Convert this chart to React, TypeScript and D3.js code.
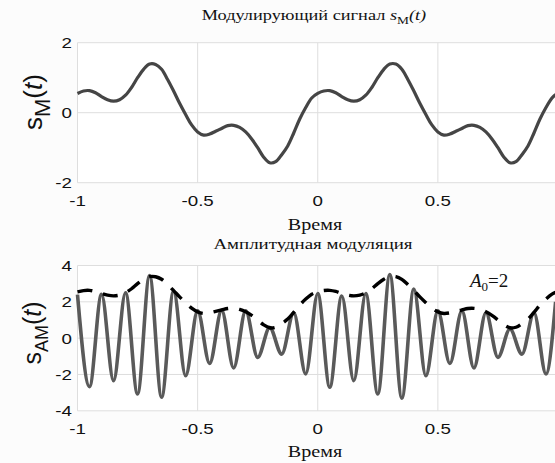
import React from "react";
import * as d3 from "d3";

// Modulating signal s_M(t), sampled every 0.025 from t = -1 to 0.975, plus t = 0.99
const sMValues = [
  0.55, 0.62, 0.63, 0.57, 0.46, 0.37, 0.33, 0.37, 0.5, 0.72,
  1.0, 1.24, 1.39, 1.38, 1.24, 0.95, 0.62, 0.27, -0.05, -0.35,
  -0.55, -0.64, -0.61, -0.53, -0.45, -0.37, -0.36, -0.42, -0.55, -0.75,
  -1.0, -1.27, -1.43, -1.4, -1.2, -0.95, -0.58, -0.18, 0.15, 0.42,
  0.55, 0.62, 0.63, 0.57, 0.46, 0.37, 0.33, 0.37, 0.5, 0.72,
  1.0, 1.24, 1.39, 1.39, 1.24, 0.95, 0.62, 0.27, -0.05, -0.35,
  -0.55, -0.64, -0.61, -0.53, -0.45, -0.37, -0.36, -0.42, -0.55, -0.75,
  -1.0, -1.27, -1.43, -1.4, -1.2, -0.95, -0.58, -0.18, 0.15, 0.42,
  0.52,
];
const sMTimes = sMValues.map((_, i) => (i === 80 ? 0.99 : -1 + i * 0.025));

// AM signal extrema (peaks / troughs)
const amTimes = [
  -1, -0.95, -0.9, -0.85, -0.8, -0.75, -0.7, -0.65, -0.6, -0.55,
  -0.5, -0.45, -0.4, -0.35, -0.3, -0.25, -0.2, -0.15, -0.1, -0.05,
  0, 0.05, 0.1, 0.15, 0.2, 0.25, 0.3, 0.35, 0.4, 0.45,
  0.5, 0.55, 0.6, 0.65, 0.7, 0.75, 0.8, 0.85, 0.9, 0.95, 0.99,
];
const amValues = [
  2.4, -2.67, 2.41, -2.34, 2.5, -3.07, 3.45, -3.25, 2.6, -2.07,
  1.5, -1.39, 1.53, -1.64, 1.5, -1.06, 0.58, -0.88, 1.4, -1.97,
  2.45, -2.7, 2.32, -2.34, 2.45, -3.07, 3.5, -3.3, 2.7, -2.07,
  1.5, -1.39, 1.5, -1.64, 1.4, -1.06, 0.5, -0.88, 1.4, -1.97, 2.0,
];
const A0 = 2;

const xTicks = [-1, -0.5, 0, 0.5, 1];
const xTickLabels = ["-1", "-0.5", "0", "0.5"];
const topYTicks = [-2, 0, 2];
const botYTicks = [-4, -2, 0, 2, 4];

const W = 555;
const H = 463;
const gridColor = "#dedede";
const sans = "'Liberation Sans', Arial, sans-serif";
const serif = "'Liberation Serif', 'Times New Roman', serif";
const SX = 1.22;

function T(props: {
  x: number;
  y: number;
  anchor?: string;
  size: number;
  family: string;
  sx?: number;
  dy?: string;
  children: React.ReactNode;
}) {
  const { x, y, anchor = "middle", size, family, sx = SX, dy, children } = props;
  return (
    <text
      transform={`translate(${x},${y}) scale(${sx},1)`}
      textAnchor={anchor}
      fontFamily={family}
      fontSize={size}
      dy={dy}
      fill="#111"
    >
      {children}
    </text>
  );
}

export default function App() {
  const x = d3.scaleLinear().domain([-1, 1]).range([77.5, 558]);
  const yTop = d3.scaleLinear().domain([-2, 2]).range([182.7, 42.7]);
  const yBot = d3.scaleLinear().domain([-4, 4]).range([410.8, 265.5]);

  const sMData = sMTimes.map((t, i) => [t, sMValues[i]] as [number, number]);
  const envData = sMTimes.map((t, i) => [t, A0 + sMValues[i]] as [number, number]);
  const amData = amTimes.map((t, i) => [t, amValues[i]] as [number, number]);

  const lineTop = d3
    .line<[number, number]>()
    .x((d) => x(d[0]))
    .y((d) => yTop(d[1]))
    .curve(d3.curveCatmullRom);
  const lineEnv = d3
    .line<[number, number]>()
    .x((d) => x(d[0]))
    .y((d) => yBot(d[1]))
    .curve(d3.curveCatmullRom);
  const lineAm = d3
    .line<[number, number]>()
    .x((d) => x(d[0]))
    .y((d) => yBot(d[1]))
    .curve(d3.curveMonotoneX);

  const renderGrid = (y: d3.ScaleLinear<number, number>, yTicks: number[]) => (
    <g>
      {xTicks.map((t) => (
        <line key={"gx" + t} x1={x(t)} x2={x(t)} y1={y.range()[1]} y2={y.range()[0]} stroke={gridColor} strokeWidth={1} />
      ))}
      {yTicks.map((v) => (
        <line key={"gy" + v} x1={x(-1)} x2={x(1)} y1={y(v)} y2={y(v)} stroke={gridColor} strokeWidth={1} />
      ))}
    </g>
  );

  const renderTicks = (y: d3.ScaleLinear<number, number>, yTicks: number[], xLabelY: number) => (
    <g>
      {xTickLabels.map((lab, i) => (
        <T key={"tx" + i} x={x(xTicks[i])} y={xLabelY} size={15} family={sans} sx={1.25}>
          {lab}
        </T>
      ))}
      {yTicks.map((v) => (
        <T key={"ty" + v} x={72} y={y(v)} dy="0.36em" anchor="end" size={15} family={sans} sx={1.25}>
          {String(v)}
        </T>
      ))}
    </g>
  );

  return (
    <svg
      width={W}
      height={H}
      viewBox={`0 0 ${W} ${H}`}
      style={{ position: "absolute", left: 0, top: 0, background: "#fcfcfc" }}
    >
      <rect x={0} y={0} width={W} height={H} fill="#fcfcfc" />

      {/* ---------- Top plot ---------- */}
      <rect x={x(-1)} y={42.7} width={x(1) - x(-1)} height={140} fill="#ffffff" />
      {renderGrid(yTop, topYTicks)}
      <path d={lineTop(sMData) || ""} fill="none" stroke="#454545" strokeWidth={3.2} strokeLinejoin="round" />
      {renderTicks(yTop, topYTicks, 206)}
      <T x={314} y={20} size={15} family={serif}>
        Модулирующий сигнал <tspan fontStyle="italic">s</tspan>
        <tspan fontSize={11} dy={4}>M</tspan>
        <tspan fontStyle="italic" dy={-4}>(t)</tspan>
      </T>
      <T x={315} y={230} size={16.5} family={serif}>
        Время
      </T>
      <text transform="translate(42,102) rotate(-90)" textAnchor="middle" fontFamily={sans} fontSize={26} fill="#111">
        s<tspan fontSize={22} dy={8}>M</tspan>
        <tspan dy={-8}>(</tspan>
        <tspan fontStyle="italic">t</tspan>
        <tspan>)</tspan>
      </text>

      {/* ---------- Bottom plot ---------- */}
      <rect x={x(-1)} y={265.5} width={x(1) - x(-1)} height={410.8 - 265.5} fill="#ffffff" />
      {renderGrid(yBot, botYTicks)}
      <path d={lineAm(amData) || ""} fill="none" stroke="#5a5a5a" strokeWidth={3.6} strokeLinejoin="round" />
      <path
        d={lineEnv(envData) || ""}
        fill="none"
        stroke="#000"
        strokeWidth={3.4}
        strokeDasharray="15 11"
      />
      {renderTicks(yBot, botYTicks, 434)}
      <T x={313} y={249} size={15.5} family={serif}>
        Амплитудная модуляция
      </T>
      <T x={315} y={457} size={16.5} family={serif}>
        Время
      </T>
      <text transform="translate(41,333) rotate(-90)" textAnchor="middle" fontFamily={sans} fontSize={25} fill="#111">
        s<tspan fontSize={18} dy={7}>AM</tspan>
        <tspan dy={-7}>(</tspan>
        <tspan fontStyle="italic">t</tspan>
        <tspan>)</tspan>
      </text>
      <text x={470} y={287} fontFamily={serif} fontSize={19} fill="#111">
        <tspan fontStyle="italic">A</tspan>
        <tspan fontSize={13} dy={4}>0</tspan>
        <tspan dy={-4}>=2</tspan>
      </text>
    </svg>
  );
}
